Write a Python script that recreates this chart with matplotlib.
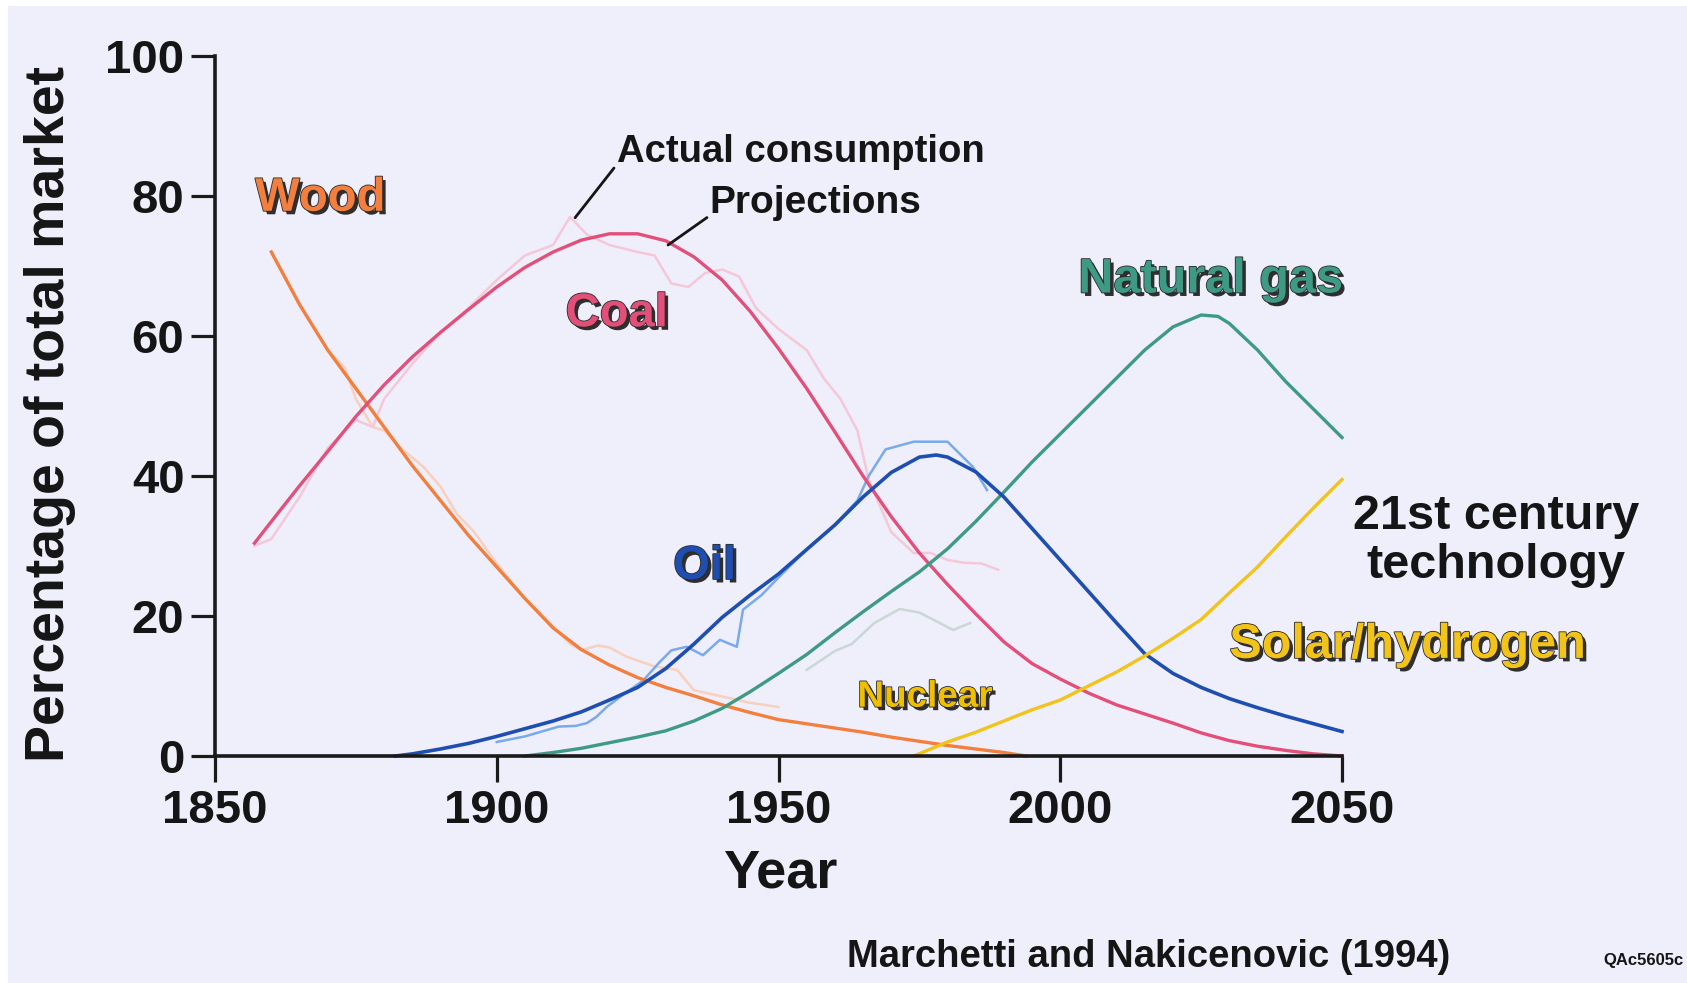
import matplotlib
matplotlib.use('Agg')
import matplotlib.pyplot as plt
import matplotlib.patheffects as pe
from matplotlib.patches import Rectangle

plt.rcParams['font.family'] = ['Liberation Sans', 'DejaVu Sans']
plt.rcParams['font.weight'] = 'bold'

# --- projections (smooth curves) ---
wood_years = [1860, 1865, 1870, 1875, 1880, 1885, 1890, 1895, 1900, 1905, 1910, 1915, 1920, 1925,
              1930, 1935, 1940, 1945, 1950, 1955, 1960, 1965, 1970, 1975, 1980, 1985, 1990, 1994]
wood_vals = [72, 64.5, 58, 52.5, 47, 41.5, 36.5, 31.5, 27, 22.5, 18.3, 15.2, 13, 11.2,
             9.8, 8.6, 7.3, 6.2, 5.2, 4.6, 4.0, 3.4, 2.7, 2.1, 1.5, 1.0, 0.5, 0]

coal_years = [1857, 1860, 1865, 1870, 1875, 1880, 1885, 1890, 1895, 1900, 1905, 1910, 1915, 1920,
              1925, 1930, 1935, 1940, 1945, 1950, 1955, 1960, 1965, 1970, 1975, 1980, 1985, 1990,
              1995, 2000, 2005, 2010, 2015, 2020, 2025, 2030, 2035, 2040, 2045, 2050]
coal_vals = [30.4, 33.5, 38.6, 43.5, 48.5, 53, 57, 60.5, 63.8, 67, 69.8, 72, 73.7, 74.6,
             74.6, 73.6, 71.3, 68, 63.5, 58.2, 52.5, 46.3, 40, 34.2, 29, 24.5, 20.3, 16.3,
             13.2, 11, 9.0, 7.3, 6.0, 4.7, 3.3, 2.2, 1.4, 0.8, 0.3, 0]

oil_years = [1882, 1885, 1890, 1895, 1900, 1905, 1910, 1915, 1920, 1925, 1930, 1935, 1940, 1945,
             1950, 1955, 1960, 1965, 1970, 1975, 1978, 1980, 1985, 1990, 1995, 2000, 2005, 2010,
             2015, 2020, 2025, 2030, 2035, 2040, 2045, 2050]
oil_vals = [0, 0.3, 1.0, 1.8, 2.8, 3.9, 5.0, 6.3, 8.0, 9.8, 12.5, 16, 19.8, 23,
            26, 29.5, 33, 37, 40.5, 42.7, 43, 42.7, 40.6, 37, 32.5, 28, 23.5, 19,
            14.6, 11.8, 9.8, 8.2, 6.9, 5.7, 4.6, 3.5]

gas_years = [1905, 1910, 1915, 1920, 1925, 1930, 1935, 1940, 1945, 1950, 1955, 1960, 1965, 1970,
             1975, 1980, 1985, 1990, 1995, 2000, 2005, 2010, 2015, 2020, 2025, 2028, 2030, 2035,
             2040, 2045, 2050]
gas_vals = [0, 0.5, 1.1, 1.9, 2.7, 3.6, 5.0, 6.8, 9.2, 11.8, 14.5, 17.6, 20.6, 23.5,
            26.3, 29.6, 33.5, 37.7, 42, 46, 50, 54, 58, 61.3, 63, 62.8, 61.8, 58,
            53.5, 49.5, 45.5]

solar_years = [1974, 1980, 1985, 1990, 1995, 2000, 2005, 2010, 2015, 2020, 2025, 2030, 2035,
               2040, 2045, 2050]
solar_vals = [0, 2.0, 3.4, 5.0, 6.6, 8.0, 10, 12, 14.3, 16.8, 19.5, 23.3, 27,
              31.3, 35.5, 39.5]

# --- actual consumption (faint, wiggly) ---
wood_act_years = [1870, 1873, 1875, 1878, 1880, 1883, 1887, 1890, 1893, 1896, 1900, 1905, 1910,
                  1913, 1915, 1918, 1920, 1923, 1928, 1932, 1935, 1940, 1945, 1950]
wood_act_vals = [58, 55.5, 51, 47, 46.5, 44, 41.3, 38.5, 34.5, 32, 27.5, 22.5, 18.5,
                 16, 15.1, 15.8, 15.5, 14.2, 12.8, 12.3, 9.4, 8.5, 7.6, 7.0]

coal_act_years = [1857, 1860, 1865, 1870, 1875, 1878, 1880, 1885, 1890, 1895, 1900, 1905, 1910,
                  1913, 1916, 1920, 1925, 1928, 1931, 1934, 1937, 1940, 1943, 1946, 1950, 1955,
                  1958, 1961, 1964, 1966, 1970, 1974, 1977, 1980, 1983, 1986, 1989]
coal_act_vals = [30, 31, 37, 44, 48, 47, 51, 56, 60.5, 64, 68, 71.5, 73,
                 77, 74.5, 73, 72, 71.5, 67.5, 67, 69, 69.5, 68.5, 64, 61, 58,
                 54, 51, 46.5, 39.5, 32, 29, 29, 28, 27.6, 27.5, 26.6]

oil_act_years = [1900, 1905, 1911, 1914, 1916, 1917.7, 1919.5, 1922, 1926, 1929, 1931, 1933.7,
                 1936.6, 1939.6, 1942.6, 1943.7, 1947, 1950, 1955, 1960, 1964, 1966, 1969,
                 1974, 1980, 1984.5, 1987]
oil_act_vals = [2.0, 2.8, 4.2, 4.3, 4.7, 5.6, 7.0, 8.5, 10.8, 13.5, 15.1, 15.6,
                14.4, 16.6, 15.6, 20.9, 23, 25.5, 29.5, 33, 36.5, 40, 43.8,
                44.9, 44.9, 41.3, 38]

gas_act_years = [1955, 1960, 1963, 1967, 1971.5, 1975, 1977.4, 1981, 1984]
gas_act_vals = [12.3, 15, 16, 19, 21, 20.5, 19.5, 18, 19]

x_ticks = [1850, 1900, 1950, 2000, 2050]
y_ticks = [0, 20, 40, 60, 80, 100]

BG = '#EFEEFB'
C_WOOD, C_COAL, C_OIL, C_GAS, C_SOLAR = '#F27F3D', '#E2507A', '#1E4FB0', '#3E9A84', '#F2C318'

fig = plt.figure(figsize=(16.87, 9.83), dpi=100)
fig.patch.set_facecolor('white')
fig.patches.append(Rectangle((8 / 1687, 0), 1, 1 - 6 / 983, transform=fig.transFigure,
                             facecolor=BG, edgecolor='none', zorder=-10))

ax = fig.add_axes([215 / 1687, 227 / 983, 1127 / 1687, 700 / 983])
ax.set_facecolor('none')

# faint actual lines first
ax.plot(wood_act_years, wood_act_vals, color='#F8D0BE', lw=1.8, clip_on=False)
ax.plot(coal_act_years, coal_act_vals, color='#F5C8D8', lw=1.8, clip_on=False)
ax.plot(gas_act_years, gas_act_vals, color='#CBD6D6', lw=1.8, clip_on=False)
ax.plot(oil_act_years, oil_act_vals, color='#78AAEC', lw=1.8, clip_on=False)

ax.plot(wood_years, wood_vals, color=C_WOOD, lw=2.4, clip_on=False)
ax.plot(coal_years, coal_vals, color=C_COAL, lw=2.4, clip_on=False)
ax.plot(gas_years, gas_vals, color=C_GAS, lw=2.4, clip_on=False)
ax.plot(oil_years, oil_vals, color=C_OIL, lw=2.6, clip_on=False)
ax.plot(solar_years, solar_vals, color=C_SOLAR, lw=2.4, clip_on=False)

ax.set_xlim(1850, 2050)
ax.set_ylim(0, 100)
ax.set_xticks(x_ticks)
ax.set_yticks(y_ticks)
for s in ['top', 'right']:
    ax.spines[s].set_visible(False)
for s in ['left', 'bottom']:
    ax.spines[s].set_linewidth(2.6)
    ax.spines[s].set_color('#1a1a1a')
ax.tick_params(axis='both', direction='out', width=2.3, color='#1a1a1a',
               labelsize=34, pad=5)
ax.tick_params(axis='y', length=17)
ax.tick_params(axis='x', length=19)
for lab in ax.get_xticklabels() + ax.get_yticklabels():
    lab.set_fontweight('bold')
    lab.set_color('#151515')

fig.text(50 / 1687, 1 - 414 / 983, 'Percentage of total market', rotation=90,
         ha='center', va='center', fontsize=40, fontweight='bold', color='#151515')
fig.text(780 / 1687, 1 - 874 / 983, 'Year', ha='center', va='center',
         fontsize=39, fontweight='bold', color='#151515')

shadow = [pe.SimplePatchShadow(offset=(2.5, -2.5), shadow_rgbFace='#1a1a1a', alpha=0.9),
          pe.Stroke(linewidth=1.2, foreground='#2a2a2a'), pe.Normal()]

def label(x, y, s, c, size=34):
    ax.text(x, y, s, color=c, fontsize=size, fontweight='bold', ha='center', va='center',
            path_effects=shadow, clip_on=False)

label(1868.7, 79.6, 'Wood', C_WOOD)
label(1921.3, 63.1, 'Coal', C_COAL)
label(1936.9, 27, 'Oil', C_OIL)
label(2026.7, 68, 'Natural gas', C_GAS, size=35)
label(1976, 8.4, 'Nuclear', '#F0C000', size=26.5)
label(2061.6, 15.8, 'Solar/hydrogen', C_SOLAR, size=35)

ax.text(2077.3, 30.7, '21st century\ntechnology', ha='center', va='center', fontsize=35,
        fontweight='bold', color='#151515', linespacing=1.12, clip_on=False)

# annotation leaders
ax.annotate('Actual consumption', xy=(1913.9, 76.9), xytext=(1921.3, 86.3),
            fontsize=27.5, fontweight='bold', color='#151515', ha='left', va='center',
            arrowprops=dict(arrowstyle='-', color='#151515', lw=2, shrinkA=0, shrinkB=0,
                            relpos=(0, 0.15)))
ax.annotate('Projections', xy=(1930.4, 73), xytext=(1937.8, 79),
            fontsize=28, fontweight='bold', color='#151515', ha='left', va='center',
            arrowprops=dict(arrowstyle='-', color='#151515', lw=2, shrinkA=0, shrinkB=0,
                            relpos=(0, 0.15)))

fig.text(1149 / 1687, 1 - 957 / 983, 'Marchetti and Nakicenovic (1994)', ha='center',
         va='center', fontsize=27.5, fontweight='bold', color='#151515')
fig.text(1603 / 1687, 1 - 961 / 983, 'QAc5605c', ha='left', va='center',
         fontsize=12, fontweight='bold', color='#151515')

fig.savefig('out.png', dpi=100, facecolor=fig.get_facecolor())
